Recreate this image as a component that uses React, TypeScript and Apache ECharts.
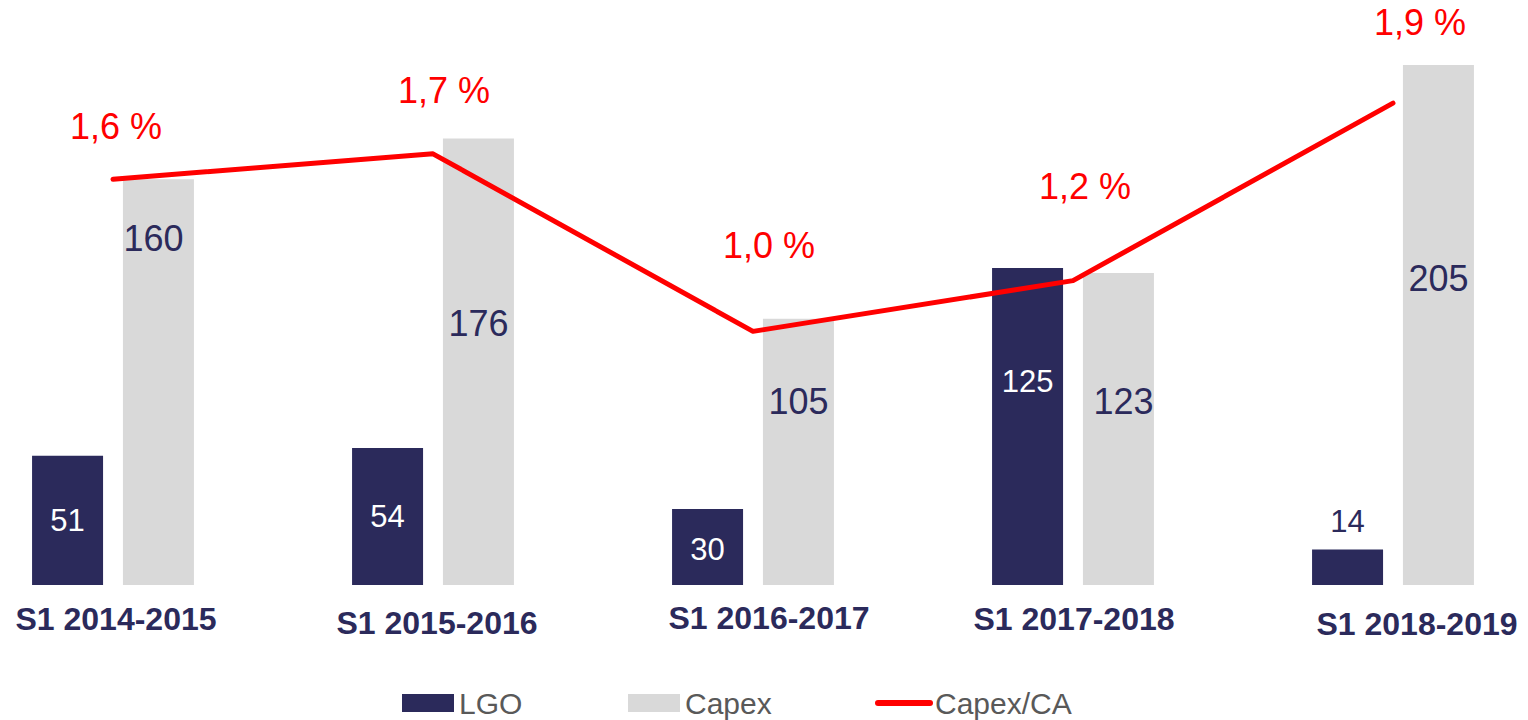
import React, { useEffect, useRef } from "react";
import * as echarts from "echarts";

const categories = ["S1 2014-2015", "S1 2015-2016", "S1 2016-2017", "S1 2017-2018", "S1 2018-2019"];
const lgoValues = [51, 54, 30, 125, 14];
const capexValues = [160, 176, 105, 123, 205];
const ratioValues = [1.6, 1.7, 1.0, 1.2, 1.9];
const legendNames = ["LGO", "Capex", "Capex/CA"];

// layout (pixels)
const SHIFT = 47;
const legendLefts = [402, 628, 875];
const lgoLabelOffsets = [65, 68, 41, 114, -28];
const capexLabelOffsets = [59, 185, 83, 128, 213];
const capexLabelDx = [-5, 0, 0, 5, 0];
const ratioLabelOffsets = [[3, -53], [11, -63], [16, -86], [12, -94], [27, -81]];
const catLabelDx = [3, 4, 16, 1, 24];
const catLabelDy = [1, 5, 0, 1, 6];

const NAVY = "#2B2A5B";
const GRAY = "#D9D9D9";
const RED = "#FF0000";
const FONT = "'Liberation Sans', Arial, sans-serif";

export default function App() {
  const ref = useRef<HTMLDivElement>(null);
  useEffect(() => {
    document.body.style.margin = "0";
    document.body.style.overflow = "hidden";
    const chart = echarts.init(ref.current!, null, { renderer: "svg" });
    const rich: Record<string, any> = {};
    categories.forEach((_, i) => {
      const dx = catLabelDx[i];
      rich["c" + i] = {
        fontFamily: FONT,
        fontSize: 32,
        fontWeight: "bold",
        color: NAVY,
        padding: [catLabelDy[i], dx < 0 ? -2 * dx : 0, 0, dx > 0 ? 2 * dx : 0],
      };
    });
    const legendBase = {
      top: 688,
      padding: 0,
      itemWidth: 52,
      itemHeight: 18,
      textStyle: { fontFamily: FONT, fontSize: 30, color: "#595959" },
    };
    chart.setOption({
      animation: false,
      textStyle: { fontFamily: FONT },
      grid: { left: 0, right: 0, top: 27, bottom: 135 },
      legend: [
        { ...legendBase, left: legendLefts[0] + SHIFT, data: [{ name: legendNames[0], icon: "rect" }] },
        { ...legendBase, left: legendLefts[1] + SHIFT, data: [{ name: legendNames[1], icon: "rect" }] },
        {
          ...legendBase,
          left: legendLefts[2] + SHIFT,
          data: [{ name: legendNames[2], itemStyle: { opacity: 0 }, lineStyle: { width: 6, cap: "round" } }],
        },
      ],
      xAxis: {
        type: "category",
        data: categories,
        axisLine: { show: false },
        axisTick: { show: false },
        axisLabel: {
          margin: 17,
          interval: 0,
          formatter: (v: string, i: number) => `{c${i}|${v}}`,
          rich,
        },
      },
      yAxis: [
        { type: "value", min: 0, max: 220, show: false, splitLine: { show: false } },
        { type: "value", min: 0, max: 2.2, show: false, splitLine: { show: false } },
      ],
      series: [
        {
          name: legendNames[0],
          type: "bar",
          barWidth: 71,
          barGap: "28%",
          itemStyle: { color: NAVY },
          data: lgoValues.map((v, i) => ({
            value: v,
            label: {
              show: true,
              position: ["50%", lgoLabelOffsets[i]],
              align: "center",
              verticalAlign: "middle",
              fontSize: 31,
              fontFamily: FONT,
              color: lgoLabelOffsets[i] > 0 ? "#FFFFFF" : NAVY,
            },
          })),
        },
        {
          name: legendNames[1],
          type: "bar",
          barWidth: 71,
          barGap: "28%",
          itemStyle: { color: GRAY },
          data: capexValues.map((v, i) => ({
            value: v,
            label: {
              show: true,
              position: ["50%", capexLabelOffsets[i]],
              offset: [capexLabelDx[i], 0],
              align: "center",
              verticalAlign: "middle",
              fontSize: 36,
              fontFamily: FONT,
              color: NAVY,
            },
          })),
        },
        {
          name: legendNames[2],
          type: "line",
          yAxisIndex: 1,
          symbol: "circle",
          symbolSize: 2,
          itemStyle: { color: RED },
          lineStyle: { color: RED, width: 5, cap: "round", join: "round" },
          data: ratioValues.map((v, i) => ({
            value: v,
            label: {
              show: true,
              position: "inside",
              offset: ratioLabelOffsets[i],
              align: "center",
              verticalAlign: "middle",
              fontSize: 36,
              fontFamily: FONT,
              color: RED,
              formatter: (p: any) => p.value.toFixed(1).replace(".", ",") + " %",
            },
          })),
        },
      ],
    });
    return () => chart.dispose();
  }, []);
  return (
    <div
      ref={ref}
      style={{ position: "fixed", left: -SHIFT, top: 0, width: 1600, height: 720, background: "#FFFFFF" }}
    />
  );
}
